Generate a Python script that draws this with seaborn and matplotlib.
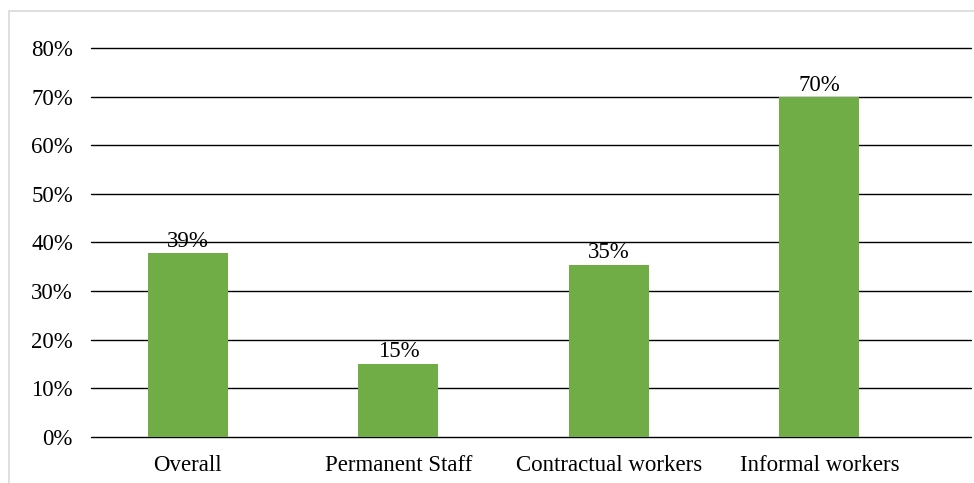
import pandas as pd
import matplotlib.pyplot as plt
import seaborn as sns
from matplotlib.patches import Rectangle
from matplotlib.ticker import MultipleLocator, FuncFormatter

categories = ['Overall', 'Permanent Staff', 'Contractual workers', 'Informal workers']
values = [37.8, 15.1, 35.4, 69.9]
labels = ['39%', '15%', '35%', '70%']

df = pd.DataFrame({'group': categories, 'share': values})

sns.set_style('white')
plt.rcParams['font.family'] = ['Liberation Serif', 'DejaVu Serif']

fig = plt.figure(figsize=(9.74, 4.83), dpi=100)
ax = fig.add_axes([91 / 974, 1 - 437 / 483, (971 - 91) / 974, (437 - 48) / 483])

# light frame round the chart area
fig.patches.append(Rectangle((9 / 974, -0.01), 1.0, 1 - 11 / 483 + 0.01, transform=fig.transFigure,
                             fill=False, edgecolor='#d9d9d9', linewidth=1.2))

sns.barplot(x='group', y='share', data=df, color='#70AD47', saturation=1,
            width=0.38, linewidth=0, ax=ax, zorder=3)

for i, (v, lab) in enumerate(zip(values, labels)):
    ax.annotate(lab, (i, v), xytext=(0, 1), textcoords='offset points',
                ha='center', va='bottom', fontsize=16.5, color='black', zorder=4)

ax.set_ylim(0, 80)
ax.set_xlim(-0.46, 3.72)
ax.yaxis.set_major_locator(MultipleLocator(10))
ax.yaxis.set_major_formatter(FuncFormatter(lambda y, _: f'{y:.0f}%'))
ax.grid(axis='y', color='black', linewidth=1.0, zorder=0)
ax.set_axisbelow(True)
for gl in ax.get_ygridlines():
    gl.set_clip_on(False)
for s in ax.spines.values():
    s.set_visible(False)
ax.tick_params(axis='both', length=0, labelsize=16.5, colors='black')
ax.tick_params(axis='y', pad=13)
ax.tick_params(axis='x', pad=13)
ax.set_xlabel('')
ax.set_ylabel('')

fig.savefig('out.png', dpi=100)
